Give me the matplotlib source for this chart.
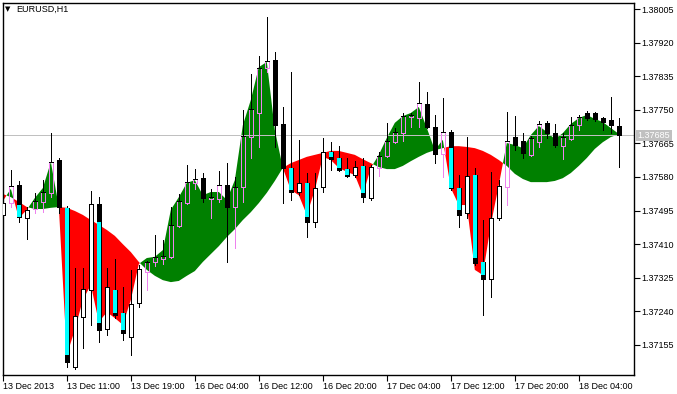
import numpy as np
import matplotlib.pyplot as plt
import matplotlib.transforms as mtransforms
from matplotlib.patches import Rectangle

# hourly candles, 13 Dec 2013 03:00 .. 18 Dec 2013 09:00
opens = [1.37484, 1.37514, 1.37560, 1.37476, 1.37499, 1.37517, 1.37540, 1.37623, 1.37502, 1.37099,
         1.37226, 1.37294, 1.37512, 1.37195, 1.37294, 1.37236, 1.37175, 1.37261, 1.37340, 1.37365,
         1.37373, 1.37378, 1.37456, 1.37514, 1.37565, 1.37577, 1.37524, 1.37524, 1.37560, 1.37504,
         1.37555, 1.37681, 1.37742, 1.37856, 1.37876, 1.37714, 1.37603, 1.37542, 1.37565, 1.37466,
         1.37555, 1.37643, 1.37628, 1.37600, 1.37585, 1.37608, 1.37527, 1.37603, 1.37633, 1.37668,
         1.37691, 1.37732, 1.37729, 1.37765, 1.37707, 1.37638, 1.37694, 1.37552, 1.37489, 1.37585,
         1.37365, 1.37322, 1.37476, 1.37555, 1.37681, 1.37671, 1.37636, 1.37668, 1.37717, 1.37691,
         1.37658, 1.37676, 1.37711, 1.37742, 1.37742, 1.37729, 1.37724, 1.37709]
highs = [1.37522, 1.37598, 1.37570, 1.37504, 1.37540, 1.37572, 1.37691, 1.37628, 1.37507, 1.37350,
         1.37350, 1.37545, 1.37529, 1.37350, 1.37373, 1.37302, 1.37345, 1.37357, 1.37367, 1.37433,
         1.37421, 1.37504, 1.37537, 1.37610, 1.37600, 1.37590, 1.37550, 1.37595, 1.37615, 1.37580,
         1.37749, 1.37840, 1.37886, 1.37985, 1.37896, 1.37757, 1.37846, 1.37674, 1.37590, 1.37590,
         1.37679, 1.37668, 1.37658, 1.37628, 1.37620, 1.37628, 1.37610, 1.37643, 1.37717, 1.37704,
         1.37742, 1.37742, 1.37820, 1.37795, 1.37737, 1.37780, 1.37699, 1.37585, 1.37681, 1.37603,
         1.37471, 1.37593, 1.37572, 1.37744, 1.37734, 1.37691, 1.37684, 1.37722, 1.37722, 1.37714,
         1.37691, 1.37732, 1.37737, 1.37747, 1.37744, 1.37732, 1.37782, 1.37729]
lows = [1.37476, 1.37504, 1.37466, 1.37423, 1.37489, 1.37491, 1.37529, 1.37489, 1.37099, 1.37094,
        1.37147, 1.37206, 1.37163, 1.37180, 1.37223, 1.37168, 1.37130, 1.37251, 1.37294, 1.37355,
        1.37360, 1.37375, 1.37453, 1.37512, 1.37550, 1.37517, 1.37476, 1.37517, 1.37365, 1.37400,
        1.37517, 1.37628, 1.37656, 1.37846, 1.37656, 1.37514, 1.37522, 1.37534, 1.37428, 1.37453,
        1.37542, 1.37598, 1.37595, 1.37580, 1.37580, 1.37517, 1.37522, 1.37582, 1.37631, 1.37666,
        1.37671, 1.37707, 1.37707, 1.37704, 1.37615, 1.37580, 1.37547, 1.37453, 1.37476, 1.37357,
        1.37231, 1.37276, 1.37471, 1.37509, 1.37648, 1.37628, 1.37633, 1.37656, 1.37679, 1.37656,
        1.37625, 1.37674, 1.37699, 1.37724, 1.37722, 1.37699, 1.37691, 1.37605]
closes = [1.37514, 1.37557, 1.37479, 1.37497, 1.37519, 1.37542, 1.37618, 1.37504, 1.37112, 1.37228,
          1.37297, 1.37512, 1.37193, 1.37302, 1.37231, 1.37185, 1.37259, 1.37347, 1.37365, 1.37378,
          1.37380, 1.37459, 1.37519, 1.37567, 1.37575, 1.37527, 1.37529, 1.37560, 1.37504, 1.37555,
          1.37684, 1.37752, 1.37856, 1.37873, 1.37711, 1.37603, 1.37542, 1.37565, 1.37466, 1.37552,
          1.37643, 1.37625, 1.37598, 1.37582, 1.37605, 1.37529, 1.37605, 1.37633, 1.37671, 1.37694,
          1.37734, 1.37737, 1.37767, 1.37707, 1.37638, 1.37694, 1.37552, 1.37484, 1.37582, 1.37362,
          1.37322, 1.37476, 1.37557, 1.37671, 1.37661, 1.37641, 1.37679, 1.37714, 1.37691, 1.37661,
          1.37681, 1.37711, 1.37732, 1.37729, 1.37727, 1.37719, 1.37711, 1.37685]

# slow smoothed line and the price edge of the coloured cloud
ma_line = [1.37537, 1.37529, 1.37517, 1.37504, 1.37499, 1.37499, 1.37502, 1.37504, 1.37502, 1.37494,
           1.37484, 1.37471, 1.37459, 1.37446, 1.37431, 1.37410, 1.37390, 1.37365, 1.37345, 1.37330,
           1.37319, 1.37314, 1.37317, 1.37330, 1.37342, 1.37365, 1.37385, 1.37405, 1.37428, 1.37448,
           1.37471, 1.37491, 1.37514, 1.37540, 1.37570, 1.37603, 1.37615, 1.37623, 1.37631, 1.37636,
           1.37641, 1.37646, 1.37646, 1.37641, 1.37636, 1.37625, 1.37615, 1.37605, 1.37600, 1.37600,
           1.37608, 1.37620, 1.37631, 1.37641, 1.37648, 1.37653, 1.37658, 1.37658, 1.37656, 1.37653,
           1.37646, 1.37636, 1.37623, 1.37608, 1.37588, 1.37575, 1.37567, 1.37567, 1.37567, 1.37570,
           1.37577, 1.37590, 1.37608, 1.37628, 1.37651, 1.37668, 1.37681, 1.37688]
cloud_edge = [1.37519, 1.37550, 1.37476, 1.37497, 1.37527, 1.37552, 1.37618, 1.37504, 1.37130, 1.37193,
              1.37269, 1.37307, 1.37213, 1.37238, 1.37223, 1.37206, 1.37269, 1.37360, 1.37375, 1.37378,
              1.37395, 1.37497, 1.37529, 1.37565, 1.37572, 1.37534, 1.37542, 1.37542, 1.37522, 1.37572,
              1.37711, 1.37775, 1.37858, 1.37871, 1.37699, 1.37603, 1.37547, 1.37534, 1.37484, 1.37547,
              1.37631, 1.37623, 1.37603, 1.37593, 1.37585, 1.37534, 1.37603, 1.37636, 1.37679, 1.37717,
              1.37734, 1.37742, 1.37757, 1.37704, 1.37648, 1.37674, 1.37552, 1.37509, 1.37509, 1.37345,
              1.37332, 1.37459, 1.37560, 1.37666, 1.37661, 1.37653, 1.37686, 1.37709, 1.37694, 1.37676,
              1.37691, 1.37714, 1.37729, 1.37737, 1.37727, 1.37719, 1.37704, 1.37689]

# cyan histogram blocks: bar index, top, bottom
cyan_bars = [2, 8, 12, 14, 15, 36, 38, 41, 42, 43, 45, 56, 57, 59, 60]
cyan_top = [1.37509, 1.37502, 1.37466, 1.37294, 1.37236, 1.37603, 1.37565, 1.37643, 1.37628, 1.37600,
            1.37608, 1.37653, 1.37552, 1.37585, 1.37365]
cyan_bot = [1.37479, 1.37130, 1.37211, 1.37236, 1.37193, 1.37547, 1.37479, 1.37631, 1.37603, 1.37585,
            1.37540, 1.37552, 1.37497, 1.37375, 1.37332]

xlabels = ['13 Dec 2013', '13 Dec 11:00', '13 Dec 19:00', '16 Dec 04:00', '16 Dec 12:00',
           '16 Dec 20:00', '17 Dec 04:00', '17 Dec 12:00', '17 Dec 20:00', '18 Dec 04:00']
yticks = [1.38005, 1.37920, 1.37835, 1.37750, 1.37665, 1.37580, 1.37495, 1.37410, 1.37325, 1.37240, 1.37155]
last_price = 1.37685

GREEN = '#008000'
RED = '#ff0000'
CYAN = '#00ffff'
PINK = '#ee82ee'
FONT = 'Liberation Sans'

x = np.arange(len(opens))
ma = np.array(ma_line)
edge = np.array(cloud_edge)

fig = plt.figure(figsize=(6.77, 3.94), dpi=100)
ax = fig.add_axes([2.7 / 677, 19 / 394, 631.3 / 677, 372.3 / 394])

ax.fill_between(x, ma, edge, where=edge >= ma, interpolate=True, color=GREEN, lw=0, zorder=1)
ax.fill_between(x, ma, edge, where=edge <= ma, interpolate=True, color=RED, lw=0, zorder=1)
ax.axhline(last_price, color='#c0c0c0', lw=0.72, zorder=2)

w = 0.55
lw = 0.72  # one pixel at 100 dpi
for i in range(len(opens)):
    o, h, l, c = opens[i], highs[i], lows[i], closes[i]
    bull = c >= o
    up_zone = edge[i] >= ma[i]
    top, bot = max(o, c), min(o, c)
    ax.vlines(i, top, h, color='black', lw=lw, zorder=3, antialiased=False)
    ax.vlines(i, l, bot, color=PINK if (bull and up_zone) else 'black', lw=lw, zorder=3, antialiased=False)
    if bull:
        fc = 'none' if up_zone else 'white'
        ec = PINK if up_zone else 'black'
    else:
        fc = 'black'
        ec = 'black'
    ax.add_patch(Rectangle((i - w / 2, bot), w, top - bot, facecolor=fc, edgecolor=ec, lw=lw,
                           zorder=4, antialiased=False))
    if bull and up_zone:
        ax.hlines(top, i - w / 2, i + w / 2, color='black', lw=lw, zorder=5, antialiased=False)

for j, i in enumerate(cyan_bars):
    ax.bar(i, cyan_top[j] - cyan_bot[j], bottom=cyan_bot[j], width=w * 0.9, color=CYAN, lw=0, zorder=6)

ax.set_xlim(-0.02, 78.9)
ax.set_ylim(1.37079, 1.38021)

ax.set_xticks(np.arange(0, 73, 8))
ax.set_xticklabels(xlabels, ha='left', fontsize=6.5, family=FONT)
ax.yaxis.tick_right()
ax.set_yticks(yticks)
ax.set_yticklabels(['%.5f' % v for v in yticks], fontsize=6.5, family=FONT)
ax.tick_params(axis='both', direction='out', length=4, width=0.8, pad=1, color='black')
for s in ax.spines.values():
    s.set_linewidth(1)

trans = mtransforms.blended_transform_factory(ax.transAxes, ax.transData)
ax.text(1.006, last_price, '1.37685', transform=trans, fontsize=6.5, family=FONT, color='white',
        va='center', ha='left', bbox=dict(boxstyle='square,pad=0.15', fc='#c0c0c0', ec='none'), zorder=10)

fig.text(5 / 677, 1 - 9 / 394, '\u25bc', fontsize=5, va='center', ha='left')
fig.text(16 / 677, 1 - 9 / 394, 'EURUSD,H1', fontsize=6.5, family=FONT, va='center', ha='left')

fig.savefig('out.png', dpi=100)
